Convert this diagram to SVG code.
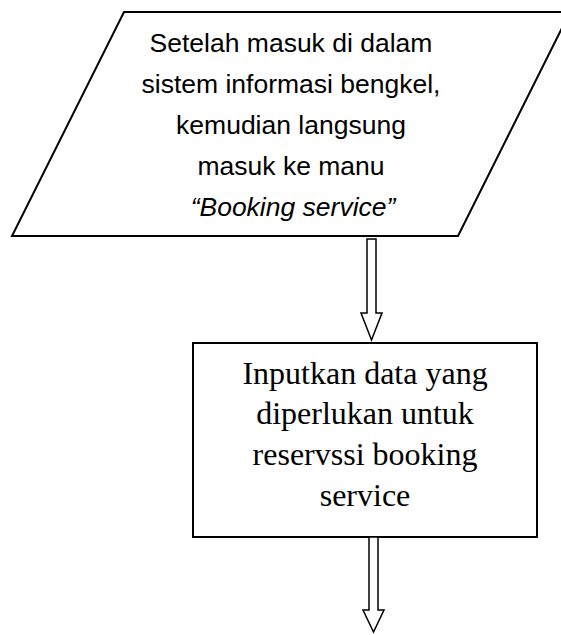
<svg xmlns="http://www.w3.org/2000/svg" width="561" height="635" viewBox="0 0 561 635">
<style>
.shape{fill:#fff;stroke:#000;stroke-width:2}
.arrow{fill:#fff;stroke:#000;stroke-width:1.5;stroke-linejoin:miter}
.t1{font-family:"Liberation Sans",Arial,sans-serif;font-size:26.5px;fill:#000;text-anchor:middle}
.t2{font-family:"Liberation Serif","Times New Roman",serif;font-size:32px;fill:#000;text-anchor:middle}
</style>
<rect width="561" height="635" fill="#fff"/>
<g id="input">
<polygon class="shape" points="124,12 570,12 458,236 12,236"/>
<text class="t1" x="291" y="52">Setelah masuk di dalam</text>
<text class="t1" x="291" y="93">sistem informasi bengkel,</text>
<text class="t1" x="291" y="134">kemudian langsung</text>
<text class="t1" x="291" y="175">masuk ke manu</text>
<text class="t1" x="293" y="216" font-style="italic">“Booking service”</text>
</g>
<g id="process">
<rect class="shape" x="193" y="343" width="344" height="194"/>
<text class="t2" x="365" y="384">Inputkan data yang</text>
<text class="t2" x="365" y="424">diperlukan untuk</text>
<text class="t2" x="365" y="465">reservssi booking</text>
<text class="t2" x="365" y="506">service</text>
</g>
<g id="connectors">
<polygon class="arrow" points="367,239 376,239 376,313 382,313 371.5,340 361,313 367,313"/>
<polygon class="arrow" points="369,537 378,537 378,610 384,610 373.5,632 363,610 369,610"/>
</g>
</svg>
